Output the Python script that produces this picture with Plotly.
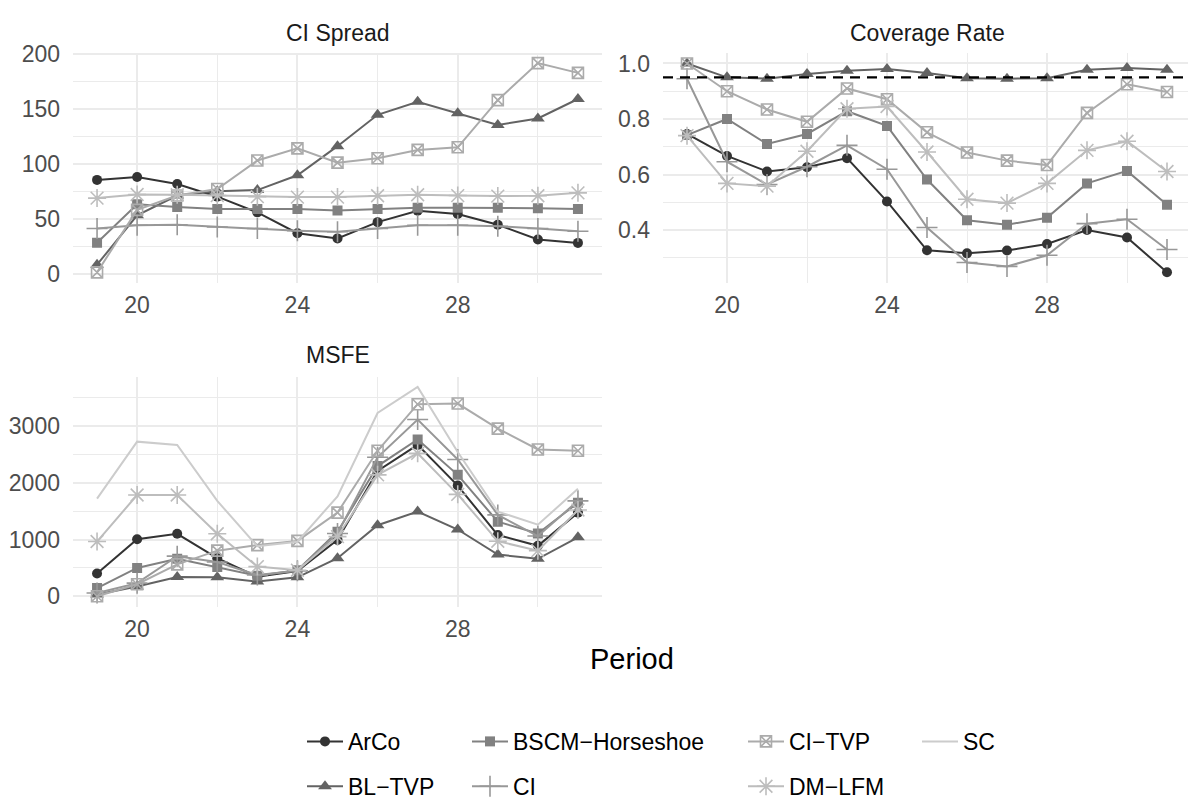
import plotly.graph_objects as go

W, H = 1188, 808

periods = list(range(19, 32))
series_names = ["ArCo", "BL\u2212TVP", "BSCM\u2212Horseshoe", "CI", "CI\u2212TVP", "DM\u2212LFM", "SC"]

# CI Spread
arco_spread = [85.3, 88, 81.5, 70, 55.7, 36.7, 32, 46.8, 57.2, 54.2, 44.4, 31, 27.9]
bltvp_spread = [8, 53, 71, 75, 76, 89.5, 116, 144.6, 156.4, 146, 135.4, 141.3, 159]
bscm_spread = [28, 63, 60.7, 58.7, 58.7, 58.7, 57.5, 58.7, 60, 60, 60, 59.5, 58.7]
ci_spread = [41, 44, 44.4, 42.4, 41, 39, 38, 41, 44, 44, 43, 41, 38.5]
citvp_spread = [1, 58, 71, 77, 103, 114, 101, 105, 112.6, 115, 158, 191.7, 182.8]
dmlfm_spread = [68.7, 72, 71.7, 71, 70, 69.6, 69.6, 70.8, 71.7, 71, 70.5, 70.8, 73.5]

# Coverage Rate
arco_cov = [0.746, 0.667, 0.611, 0.626, 0.659, 0.503, 0.327, 0.316, 0.326, 0.35, 0.40, 0.373, 0.248]
bltvp_cov = [1.0, 0.95, 0.945, 0.962, 0.974, 0.98, 0.966, 0.947, 0.945, 0.947, 0.977, 0.984, 0.977]
bscm_cov = [0.742, 0.80, 0.71, 0.746, 0.828, 0.775, 0.582, 0.435, 0.419, 0.444, 0.568, 0.613, 0.491]
ci_cov = [0.945, 0.646, 0.564, 0.628, 0.705, 0.619, 0.409, 0.283, 0.269, 0.309, 0.423, 0.439, 0.33]
citvp_cov = [1.0, 0.90, 0.834, 0.79, 0.91, 0.871, 0.752, 0.679, 0.65, 0.634, 0.822, 0.925, 0.897]
dmlfm_cov = [0.74, 0.568, 0.558, 0.684, 0.837, 0.845, 0.681, 0.511, 0.497, 0.568, 0.687, 0.72, 0.611]
nominal_coverage = 0.95

# MSFE
arco_msfe = [401, 1004, 1101, 671, 344, 442, 993, 2209, 2668, 1951, 1079, 889, 1474]
bltvp_msfe = [29, 172, 338, 333, 258, 333, 671, 1251, 1492, 1176, 734, 660, 1038]
bscm_msfe = [143, 499, 660, 516, 361, 459, 1136, 2295, 2765, 2140, 1314, 1107, 1647]
ci_msfe = [57, 230, 706, 602, 373, 447, 1107, 2450, 3115, 2410, 1434, 1061, 1681]
citvp_msfe = [0, 212, 562, 803, 901, 975, 1474, 2565, 3385, 3397, 2955, 2588, 2565]
dmlfm_msfe = [964, 1784, 1784, 1101, 522, 459, 1050, 2140, 2519, 1796, 970, 803, 1520]
sc_msfe = [1721, 2725, 2668, 1681, 880, 960, 1761, 3230, 3689, 2542, 1492, 1262, 1893]

x_ticks = [20, 24, 28]
x_minor = [22, 26, 30]
y1_ticks = [0, 50, 100, 150, 200]
y1_minor = [25, 75, 125, 175]
y2_ticks = [0.4, 0.6, 0.8, 1.0]
y2_minor = [0.3, 0.5, 0.7, 0.9]
y3_ticks = [0, 1000, 2000, 3000]
y3_minor = [500, 1500, 2500, 3500]

colors = ["#333333", "#636363", "#818181", "#989898", "#ABABAB", "#BDBDBD", "#CCCCCC"]
markers = [
    dict(symbol="circle", size=10),
    dict(symbol="triangle-up", size=12),
    dict(symbol="square", size=10),
    dict(symbol="cross-thin-open", size=15, line=dict(width=1.6)),
    dict(symbol="square-x-open", size=11, line=dict(width=1.6)),
    dict(symbol="asterisk-open", size=15, line=dict(width=1.6)),
    None,
]

spread = [arco_spread, bltvp_spread, bscm_spread, ci_spread, citvp_spread, dmlfm_spread, None]
cov = [arco_cov, bltvp_cov, bscm_cov, ci_cov, citvp_cov, dmlfm_cov, None]
msfe = [arco_msfe, bltvp_msfe, bscm_msfe, ci_msfe, citvp_msfe, dmlfm_msfe, sc_msfe]

legend_ids = ["legend", "legend2", "legend3", "legend4", "legend5", "legend6", "legend7"]

FONT = "Liberation Sans, Arial, sans-serif"
FS = 23

fig = go.Figure()
for i, name in enumerate(series_names):
    shown = False
    for data, xa, ya in [(spread[i], "x", "y"), (cov[i], "x2", "y2"), (msfe[i], "x3", "y3")]:
        if data is None:
            continue
        mk = markers[i]
        tr = dict(
            x=periods, y=data, name=name, xaxis=xa, yaxis=ya,
            line=dict(color=colors[i], width=2),
            legendgroup=name, legend=legend_ids[i],
            showlegend=not shown,
        )
        if mk is None:
            tr["mode"] = "lines"
        else:
            m = dict(mk)
            m["color"] = colors[i]
            if "line" in m:
                m["line"] = dict(m["line"], color=colors[i])
            tr["mode"] = "lines+markers"
            tr["marker"] = m
        fig.add_trace(go.Scatter(**tr))
        shown = True


def expand(vals_lists):
    lo = min(min(v) for v in vals_lists if v is not None)
    hi = max(max(v) for v in vals_lists if v is not None)
    d = (hi - lo) * 0.05
    return [lo - d, hi + d]


def px_x(a, b):
    return [a / W, b / W]


def px_y(top, bottom):
    return [1 - bottom / H, 1 - top / H]


grid = dict(showgrid=True, gridcolor="#EBEBEB", gridwidth=1.6, zeroline=False, showline=False,
            ticks="", tickfont=dict(family=FONT, size=FS, color="#4D4D4D"))
minor = lambda vals: dict(tickvals=vals, showgrid=True, gridcolor="#EBEBEB", gridwidth=0.8, ticks="")

xr = [min(periods) - 0.6, max(periods) + 0.6]
fig.update_layout(
    xaxis=dict(domain=px_x(73, 602), range=xr, tickvals=x_ticks, minor=minor(x_minor),
               anchor="y", ticklabelstandoff=6, **grid),
    yaxis=dict(domain=px_y(41.6, 277.4), range=expand(spread), tickvals=y1_ticks, minor=minor(y1_minor),
               anchor="x", ticklabelstandoff=12, **grid),
    xaxis2=dict(domain=px_x(663, 1188), range=[xr[0], xr[0] + (1188 - 663) / 40.0], tickvals=x_ticks,
                minor=minor(x_minor), anchor="y2", ticklabelstandoff=6, **grid),
    yaxis2=dict(domain=px_y(42, 277.2), range=expand(cov), tickvals=y2_ticks, tickformat=".1f",
                minor=minor(y2_minor), anchor="x2", ticklabelstandoff=12, **grid),
    xaxis3=dict(domain=px_x(73, 602), range=xr, tickvals=x_ticks, minor=minor(x_minor),
                anchor="y3", ticklabelstandoff=6, **grid),
    yaxis3=dict(domain=px_y(373.3, 609), range=expand(msfe), tickvals=y3_ticks, tickformat="d",
                minor=minor(y3_minor), anchor="x3", ticklabelstandoff=12, **grid),
)

fig.add_shape(type="line", xref="x2 domain", yref="y2", x0=0, x1=1, y0=nominal_coverage, y1=nominal_coverage,
              line=dict(color="black", width=2.2, dash="10px,7px"), layer="above")

# panel titles
for text, cx, cy in [("CI Spread", 337.5, 21), ("Coverage Rate", 927, 21), ("MSFE", 337.5, 351)]:
    fig.add_annotation(text=text, x=cx / W, y=1 - cy / H, xref="paper", yref="paper",
                       showarrow=False, xanchor="center", yanchor="middle",
                       font=dict(family=FONT, size=FS, color="#1A1A1A"))
fig.add_annotation(text="Period", x=632 / W, y=1 - 663 / H, xref="paper", yref="paper",
                   showarrow=False, xanchor="center", yanchor="middle",
                   font=dict(family=FONT, size=29, color="black"))

# legends: column-major, 4 columns x 2 rows
legend_pos = {
    "legend": (346, 747), "legend2": (346, 793),
    "legend3": (511, 747), "legend4": (511, 793),
    "legend5": (787, 747), "legend6": (787, 793),
    "legend7": (961, 747),
}
for lid, (tx, ty) in legend_pos.items():
    fig.update_layout({lid: dict(x=(tx - 44) / W, y=1 - ty / H, xanchor="left", yanchor="middle",
                                 xref="paper", yref="paper", bgcolor="rgba(0,0,0,0)",
                                 font=dict(family=FONT, size=FS, color="black"),
                                 itemwidth=36)})

fig.update_layout(
    width=W, height=H, margin=dict(l=0, r=0, t=0, b=0),
    paper_bgcolor="white", plot_bgcolor="white",
    font=dict(family=FONT),
)

fig.write_html("out.html")
